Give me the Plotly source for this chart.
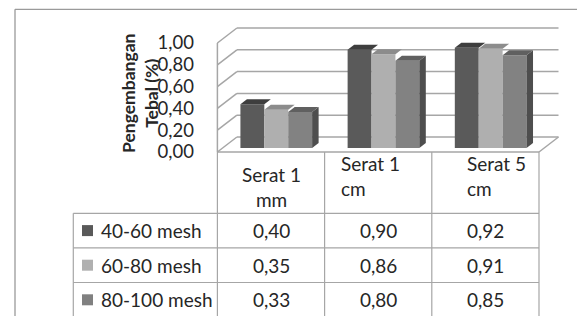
import plotly.graph_objects as go

# ---------------- data ----------------
categories = ["Serat 1 mm", "Serat 1 cm", "Serat 5 cm"]
header_lines = [["Serat 1", "mm"], ["Serat 1", "cm"], ["Serat 5", "cm"]]
series_names = ["40-60 mesh", "60-80 mesh", "80-100 mesh"]
values_40_60 = [0.40, 0.90, 0.92]
values_60_80 = [0.35, 0.86, 0.91]
values_80_100 = [0.33, 0.80, 0.85]
tick_values = [0.0, 0.2, 0.4, 0.6, 0.8, 1.0]
tick_labels = ["0,00", "0,20", "0,40", "0,60", "0,80", "1,00"]
y_title = "Pengembangan<br>Tebal (%)"

series_values = [values_40_60, values_60_80, values_80_100]

# ---------------- styling / geometry ----------------
PAGE_W, PAGE_H = 585, 316
OFF = 8                       # default body margin of the html page
W, H = PAGE_W - OFF, PAGE_H - OFF
FONT = "Lato"
front_cols = ["#5a5a5a", "#afafaf", "#828282"]
top_cols = ["#3e3e3e", "#8c8c8c", "#606060"]
side_cols = ["#3a3a3a", "#7a7a7a", "#4e4e4e"]
key_cols = ["#595959", "#b0b0b0", "#808080"]
grid_col = "#a6a6a6"
table_col = "#a6a6a6"
border_col = "#9a9a9a"
text_col = "#262626"

# page-pixel geometry of the front plane
PXX, X0 = 107.2, 271.0   # px per category, px of category 0
PXY, Y0 = 109.0, 152.0   # px per value unit, px of value 0


def xd(px):
    return (px - X0) / PXX


def yd(py):
    return (Y0 - py) / PXY


def xp(px):
    return (px - OFF) / W


def yp(py):
    return 1 - (py - OFF) / H


xr = [xd(OFF), xd(PAGE_W)]
yr = [yd(PAGE_H), yd(OFF)]

DX, DY = 19.5 / PXX, 15.0 / PXY          # wall depth
BFX, BFY = 0.27 * DX, 0.27 * DY          # bar front plane shift
BDX, BDY = 6.5 / PXX, 5.0 / PXY          # bar depth
BW = 23.9 / PXX                          # bar width
n_cat = len(categories)
n_ser = len(series_names)
x_left, x_right = -0.5, n_cat - 0.5

fig = go.Figure()

# front faces of bars
for i, (name, vals) in enumerate(zip(series_names, series_values)):
    fig.add_trace(go.Bar(
        x=[c + BFX for c in range(n_cat)], y=vals, base=BFY,
        width=BW, offset=-1.5 * BW + i * BW,
        marker=dict(color=front_cols[i], line=dict(width=0)),
        name=name, showlegend=False, hoverinfo="skip"))

# top and side faces (computed from the data)
for i, vals in enumerate(series_values):
    for c, v in enumerate(vals):
        xl = c + BFX - 1.5 * BW + i * BW
        xrgt = xl + BW
        t = BFY + v
        if i == n_ser - 1:
            fig.add_trace(go.Scatter(
                x=[xrgt, xrgt, xrgt + BDX, xrgt + BDX, xrgt],
                y=[BFY, t, t + BDY, BFY + BDY, BFY],
                fill="toself", fillcolor=side_cols[i], mode="lines",
                line=dict(width=0, color=side_cols[i]),
                showlegend=False, hoverinfo="skip"))
        fig.add_trace(go.Scatter(
            x=[xl, xrgt, xrgt + BDX, xl + BDX, xl],
            y=[t, t, t + BDY, t + BDY, t],
            fill="toself", fillcolor=top_cols[i], mode="lines",
            line=dict(width=0, color=top_cols[i]),
            showlegend=False, hoverinfo="skip"))

shapes = []


def seg(x0, y0, x1, y1, color, width=1.3, ref="data"):
    d = dict(type="line", x0=x0, y0=y0, x1=x1, y1=y1,
             line=dict(color=color, width=width), layer="below")
    if ref == "paper":
        d.update(xref="paper", yref="paper")
    else:
        d.update(xref="x", yref="y")
    shapes.append(d)


# walls & gridlines
for v in tick_values:
    seg(x_left + DX, v + DY, x_right + DX, v + DY, grid_col, 1.5)
    seg(x_left, v, x_left + DX, v + DY, grid_col, 1.5)
seg(x_left, 0, x_left, tick_values[-1], grid_col, 1.5)
seg(x_left, 0, x_right, 0, grid_col, 1.5)
seg(x_right, 0, x_right + DX, DY, grid_col, 1.5)

# data table
header_bottom = yd(213.3)
RH = 34.6 / PXY
x_leg = xd(73.3)
n_rows = n_ser
for k in range(n_cat + 1):
    seg(x_left + k, 0, x_left + k, yr[0], table_col, 1.2)
seg(x_leg, header_bottom, x_leg, yr[0], table_col, 1.2)
for r in range(n_rows + 1):
    yy = header_bottom - r * RH
    seg(x_leg, yy, x_right, yy, table_col, 1.2)

# outer chart border (top and left)
seg(xp(15), yp(9.3), xp(580), yp(9.3), border_col, 1.3, "paper")
seg(xp(15), yp(9.3), xp(15), 0, border_col, 1.3, "paper")

annotations = []
tfont = dict(family=FONT, size=19, color=text_col)

# header texts
annotations.append(dict(x=0, y=yd(187), xref="x", yref="y",
                        text="<br>".join(header_lines[0]), showarrow=False,
                        xanchor="center", yanchor="middle", align="center", font=tfont))
for c, xpx in [(1, 339), (2, 465)]:
    annotations.append(dict(x=xd(xpx), y=yd(175.5), xref="x", yref="y",
                            text="<br>".join(header_lines[c]), showarrow=False,
                            xanchor="left", yanchor="middle", align="left", font=tfont))

# table values & legend labels
row_centers = [header_bottom - (r + 0.5) * RH for r in range(n_rows)]
for r, (name, vals) in enumerate(zip(series_names, series_values)):
    for c, v in enumerate(vals):
        annotations.append(dict(x=c, y=row_centers[r], xref="x", yref="y",
                                text=f"{v:.2f}".replace(".", ","), showarrow=False,
                                xanchor="center", yanchor="middle", font=tfont))
    annotations.append(dict(x=xd(98.5), y=row_centers[r], xref="x", yref="y",
                            text=name, showarrow=False,
                            xanchor="left", yanchor="middle", font=tfont))

# legend keys
fig.add_trace(go.Scatter(
    x=[xd(87.5)] * n_rows, y=row_centers, mode="markers",
    marker=dict(symbol="square", size=11, color=key_cols, line=dict(width=0)),
    showlegend=False, hoverinfo="skip"))

# axis title
annotations.append(dict(x=xp(140), y=yp(94), xref="paper", yref="paper",
                        text="<b>" + y_title + "</b>", showarrow=False, textangle=-90,
                        xanchor="center", yanchor="middle", align="center",
                        font=dict(family=FONT, size=17.5, color=text_col)))

fig.update_layout(
    width=W, height=H, margin=dict(l=0, r=0, t=0, b=0),
    paper_bgcolor="white", plot_bgcolor="white",
    barmode="overlay", showlegend=False,
    shapes=shapes, annotations=annotations,
    xaxis=dict(range=xr, visible=False, fixedrange=True, domain=[0, 1]),
    yaxis=dict(range=yr, domain=[0, 1], anchor="free", position=xp(194),
               tickvals=tick_values, ticktext=tick_labels,
               tickfont=dict(family=FONT, size=18.5, color=text_col),
               showgrid=False, zeroline=False, showline=False, ticks="",
               fixedrange=True),
)

fig.write_html("out.html")
